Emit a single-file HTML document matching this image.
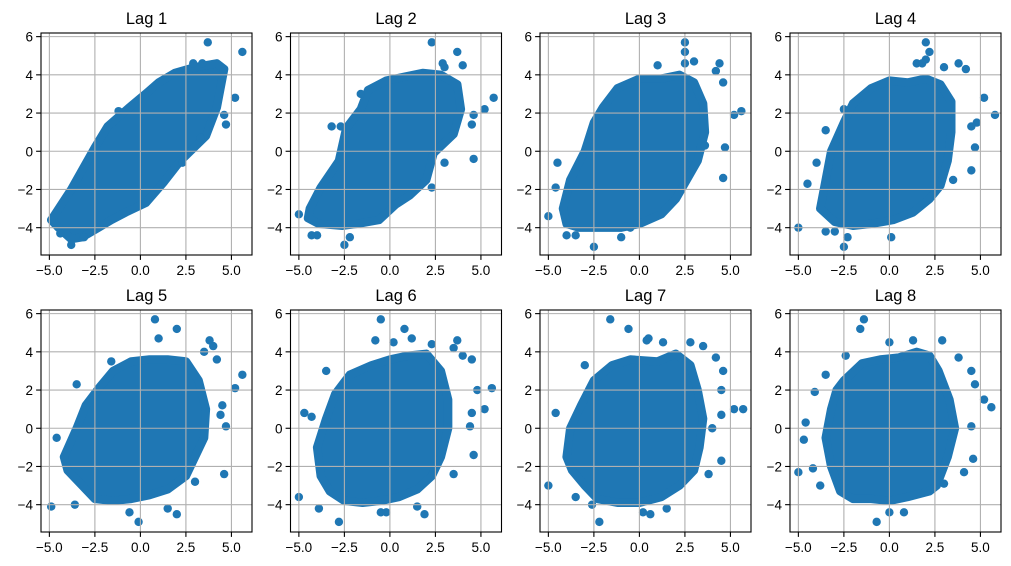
<!DOCTYPE html>
<html><head><meta charset="utf-8"><style>
html,body{margin:0;padding:0;background:#fff}
svg{display:block;font-family:"Liberation Sans","DejaVu Sans",sans-serif}
</style></head><body>
<svg id="fig" width="1011" height="566" viewBox="0 0 1011 566" xmlns="http://www.w3.org/2000/svg"></svg>
<script>
const lags = [1,2,3,4,5,6,7,8];
const xTicks = [-5,-2.5,0,2.5,5];
const xTickLabels = ["\u22125.0","\u22122.5","0.0","2.5","5.0"];
const yTicks = [6,4,2,0,-2,-4];
const yTickLabels = ["6","4","2","0","\u22122","\u22124"];
const xDomain = [-5.46, 6.13];
const yDomain = [-5.43, 6.19];
// dense core outline (data coords) per lag
const core1 = [[-4.9,-3.6],[-3.8,-2.0],[-2.5,0.2],[-1.8,1.3],[-0.6,2.3],[0.4,3.1],[1,3.6],[1.9,4.1],[3,4.4],[4.2,4.6],[4.6,4.3],[4.2,2.3],[3.6,0.8],[2.2,-0.5],[1.3,-1.6],[0.3,-2.7],[-0.8,-3.2],[-1.6,-3.6],[-2.3,-4.0],[-3.2,-4.5],[-3.8,-4.6],[-4.5,-4.0]];
const core2 = [[-4.4,-3.0],[-3.8,-1.9],[-2.8,-0.5],[-2.4,1.2],[-1.6,2.2],[-1.2,3.2],[-0.2,3.7],[0.8,3.9],[1.8,4.1],[2.8,4.0],[3.7,3.5],[3.9,2.2],[3.5,0.9],[2.4,-0.1],[2.0,-1.5],[1.1,-2.3],[0.3,-2.8],[-0.6,-3.6],[-1.8,-3.8],[-2.6,-3.9],[-3.9,-3.8],[-4.5,-3.5]];
const core3 = [[-4.2,-3.0],[-3.8,-1.5],[-3.0,0],[-2.5,1.5],[-2.0,2.3],[-1.2,3.3],[0,3.8],[1.2,3.8],[2.2,4.0],[3.0,3.6],[3.5,2.5],[3.6,1.0],[3.2,-0.5],[2.6,-1.5],[2.0,-2.5],[1.2,-3.3],[0,-3.8],[-1.0,-4.0],[-2.2,-4.0],[-3.3,-4.0],[-4.0,-3.8]];
const core4 = [[-3.8,-3.0],[-3.5,-1.5],[-3.2,0],[-2.5,1.5],[-2.0,2.5],[-1.0,3.3],[0,3.7],[1.0,3.6],[2.0,3.8],[2.8,3.5],[3.4,2.6],[3.4,1.0],[3.2,-0.5],[2.8,-1.8],[2.2,-2.5],[1.3,-3.2],[0.2,-3.6],[-1,-3.8],[-2,-3.9],[-3,-3.7]];
const core5 = [[-4.2,-1.5],[-3.5,0],[-3.0,1.2],[-2.2,2.2],[-1.5,3.0],[-0.5,3.5],[0.5,3.6],[1.5,3.6],[2.5,3.5],[3.2,2.5],[3.6,1.0],[3.5,-0.5],[3.0,-1.5],[2.5,-2.5],[1.5,-3.2],[0.5,-3.5],[-0.5,-3.7],[-1.5,-3.8],[-2.5,-3.7],[-3.2,-3.0],[-4.0,-2.2]];
const core6 = [[-3.8,-2.5],[-4.0,-1.0],[-3.5,0.5],[-3.0,1.8],[-2.2,2.8],[-1.0,3.3],[0,3.6],[1.0,3.8],[2,3.9],[2.8,3.0],[3.2,1.5],[3.2,0],[2.8,-1.5],[2.3,-2.5],[1.5,-3.2],[0.5,-3.6],[-0.5,-3.8],[-1.5,-3.9],[-2.5,-3.8],[-3.3,-3.3]];
const core7 = [[-4.0,-1.5],[-3.8,0],[-3.2,1.2],[-2.5,2.5],[-1.5,3.3],[-0.5,3.6],[1.0,3.5],[2.0,3.9],[2.8,3.3],[3.2,2.0],[3.5,0.5],[3.3,-1.0],[3.0,-2.2],[2.2,-3.0],[1.2,-3.6],[0,-3.9],[-1.2,-3.9],[-2.3,-3.7],[-3.0,-3.0],[-3.7,-2.2]];
const core8 = [[-2.5,2.5],[-1.5,3.4],[-0.5,3.6],[0.5,3.7],[1.5,4.0],[2.2,3.8],[2.7,3.0],[3.3,1.5],[3.6,0],[3.2,-1.5],[2.6,-3],[2.2,-3.3],[1,-3.6],[0,-3.8],[-1,-3.7],[-2,-3.7],[-2.7,-3.3],[-3.2,-2],[-3.5,-0.5],[-3.2,1],[-2.9,2]];
// individual outlying points per lag
const pts1 = [[3.7,5.7],[5.6,5.2],[5.2,2.8],[4.7,1.4],[4.6,1.9],[-4.4,-4.3],[-3.1,-4.5],[-3.8,-4.9],[-4.9,-3.6],[-1.2,2.1],[2.9,4.6],[3.4,4.6],[3.3,0.7],[2.3,-0.6]];
const pts2 = [[2.3,5.7],[3.7,5.2],[2.9,4.6],[3.0,4.4],[4.0,4.5],[5.7,2.8],[5.2,2.2],[4.6,1.9],[4.5,1.4],[4.6,-0.4],[2.3,-1.9],[3.0,-0.6],[-2.5,-4.9],[-2.2,-4.5],[-4.0,-4.4],[-4.3,-4.4],[-5,-3.3],[-3.2,1.3],[-2.7,1.3],[-1.6,3.0]];
const pts3 = [[2.5,5.7],[2.5,5.2],[2.5,4.6],[1.0,4.5],[3.0,4.7],[4.4,4.6],[4.2,4.2],[4.6,3.6],[5.2,1.9],[5.6,2.1],[4.7,0.2],[4.6,-1.4],[3.6,0.3],[-5,-3.4],[-4.5,-0.6],[-4.6,-1.9],[-4.0,-4.4],[-3.5,-4.4],[-2.5,-5.0],[-1.0,-4.5],[-0.5,-4.0]];
const pts4 = [[2.0,5.7],[2.2,5.2],[2.0,4.8],[1.5,4.6],[1.8,4.6],[3.0,4.4],[3.8,4.6],[4.2,4.3],[5.2,2.8],[5.8,1.9],[4.8,1.5],[4.5,1.3],[4.7,0.2],[4.5,-1.0],[3.5,-1.5],[-2.5,2.2],[-3.5,1.1],[-4.0,-0.6],[-4.5,-1.7],[-5,-4.0],[-3.0,-4.2],[-2.3,-4.5],[-2.5,-5.0],[0.1,-4.5],[-3.5,-4.2]];
const pts5 = [[0.8,5.7],[1.0,4.7],[2.0,5.2],[3.8,4.6],[4.0,4.3],[3.5,4.0],[4.2,3.6],[5.6,2.8],[5.2,2.1],[4.5,1.2],[4.4,0.7],[4.7,0.1],[4.6,-2.4],[3.0,-2.8],[2.0,-4.5],[1.5,-4.2],[-0.1,-4.9],[-0.6,-4.4],[-4.9,-4.1],[-3.6,-4.0],[-4.6,-0.5],[-3.5,2.3],[-1.6,3.5]];
const pts6 = [[-0.5,5.7],[0.8,5.2],[1.2,4.7],[-0.8,4.6],[0.2,4.5],[2.3,4.4],[3.7,4.6],[3.5,4.2],[4.0,3.8],[4.5,3.6],[5.6,2.1],[4.8,2.0],[5.2,1.0],[4.5,0.8],[4.4,0.1],[4.6,-1.4],[3.5,-2.4],[-5,-3.6],[-3.9,-4.2],[-2.8,-4.9],[-0.5,-4.4],[-0.2,-4.4],[1.5,-4.1],[1.9,-4.5],[-4.7,0.8],[-4.3,0.6],[-3.5,3.0]];
const pts7 = [[-1.6,5.7],[-0.6,5.2],[0.5,4.7],[0.4,4.6],[1.3,4.5],[2.8,4.5],[3.5,4.3],[4.2,3.7],[4.6,3.0],[4.5,2.0],[5.2,1.0],[5.7,1.0],[4.5,0.7],[4.0,0],[4.5,-1.7],[3.8,-2.4],[-5,-3.0],[-4.6,0.8],[-3.0,3.3],[-3.5,-3.6],[-2.2,-4.9],[-2.6,-4.0],[0.2,-4.4],[0.6,-4.5],[1.5,-4.2]];
const pts8 = [[-5,-2.3],[-1.4,5.7],[-1.6,5.2],[0,4.5],[1.3,4.6],[2.9,4.6],[-2.4,3.8],[-3.5,2.8],[-4.1,1.9],[-4.6,0.3],[-4.7,-0.6],[-4.2,-2.1],[-3.8,-3.0],[-0.7,-4.9],[0,-4.4],[0.8,-4.4],[3.8,3.7],[4.5,3.0],[4.7,2.3],[5.2,1.5],[5.6,1.1],[4.5,0.1],[4.6,-1.6],[4.1,-2.3],[3.0,-2.9]];
const cores = [core1,core2,core3,core4,core5,core6,core7,core8];
const points = [pts1,pts2,pts3,pts4,pts5,pts6,pts7,pts8];

const NS = "http://www.w3.org/2000/svg";
const fig = document.getElementById('fig');
const lefts = [41, 290.5, 540, 790];
const tops = [33, 310];
const W = 211, H = 222;
const C = "#1f77b4", R = 4.2;
function mk(tag, attrs, parent){ const e=document.createElementNS(NS,tag); for(const k in attrs) e.setAttribute(k,attrs[k]); parent.appendChild(e); return e; }

lags.forEach((lag, i) => {
  const L = lefts[i%4], T = tops[Math.floor(i/4)];
  const sx = v => L + (v - xDomain[0]) / (xDomain[1]-xDomain[0]) * W;
  const sy = v => T + H - (v - yDomain[0]) / (yDomain[1]-yDomain[0]) * H;
  const g = mk('g', {}, fig);
  
  
  const clip = mk('clipPath', {id:'c'+i}, g);
  mk('rect', {x:L, y:T, width:W, height:H}, clip);
  const data = mk('g', {'clip-path':'url(#c'+i+')'}, g);
  const core = mk('polygon', {points: cores[i].map(p => sx(p[0])+','+sy(p[1])).join(' '), fill:C, stroke:C, 'stroke-width':2*R, 'stroke-linejoin':'round'}, data);
  
  
  points[i].forEach(p => {
    const c = mk('circle', {cx:sx(p[0]), cy:sy(p[1]), r:R, fill:C}, data);
    
    
  });
  xTicks.forEach((t, k) => {
    const x = sx(t);
    mk('line', {x1:x, x2:x, y1:T, y2:T+H, stroke:'#b0b0b0', 'stroke-width':1.1}, g);
    mk('line', {x1:x, x2:x, y1:T+H, y2:T+H+4.9, stroke:'#000', 'stroke-width':1.1}, g);
    const tx = mk('text', {x:x, y:T+H+20, 'font-size':13.5, 'text-anchor':'middle', fill:'#000'}, g);
    tx.textContent = xTickLabels[k];
    
    
  });
  yTicks.forEach((t, k) => {
    const y = sy(t);
    mk('line', {x1:L, x2:L+W, y1:y, y2:y, stroke:'#b0b0b0', 'stroke-width':1.1}, g);
    mk('line', {x1:L-4.9, x2:L, y1:y, y2:y, stroke:'#000', 'stroke-width':1.1}, g);
    const ty = mk('text', {x:L-8, y:y+5, 'font-size':13.5, 'text-anchor':'end', fill:'#000'}, g);
    ty.textContent = yTickLabels[k];
    
    
  });
  mk('rect', {x:L, y:T, width:W, height:H, fill:'none', stroke:'#000', 'stroke-width':1.1}, g);
  const title = mk('text', {x:L+W/2, y:T-9, 'font-size':16.5, 'text-anchor':'middle', fill:'#000'}, g);
  title.textContent = 'Lag ' + lag;
  
  
});
</script>
</body></html>
